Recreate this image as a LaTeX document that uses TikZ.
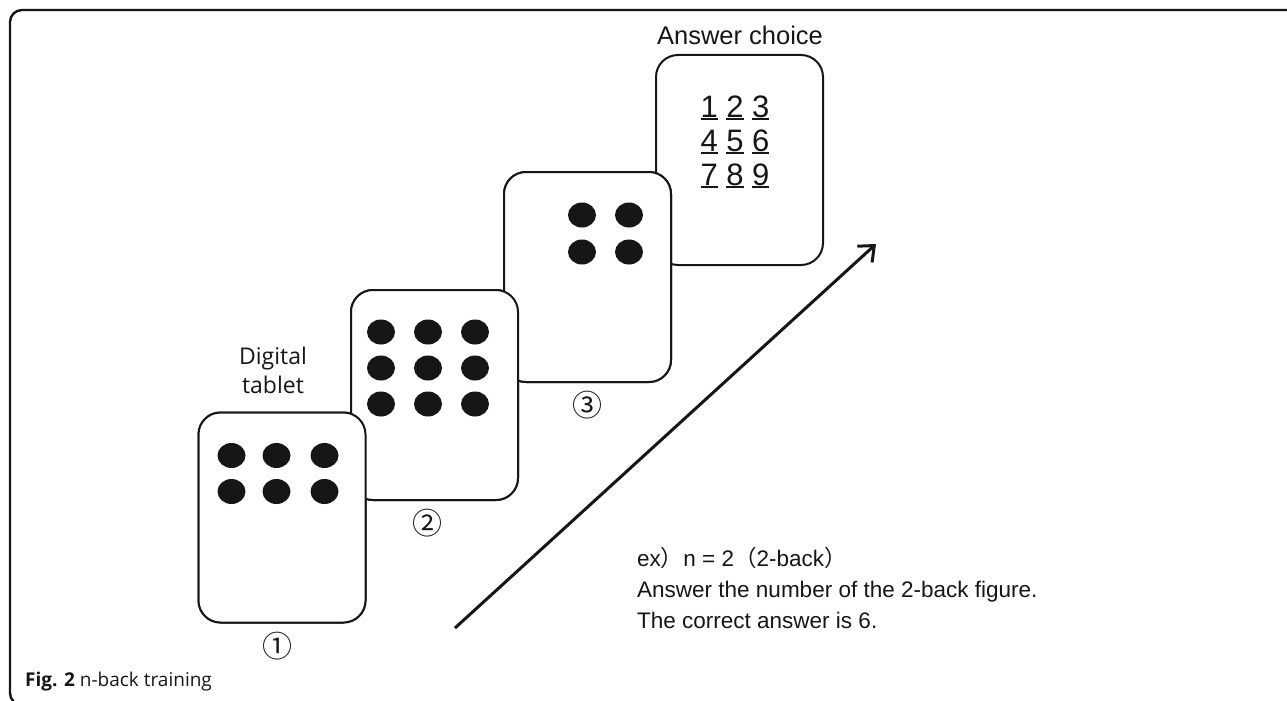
\documentclass[tikz,border=0pt]{standalone}
\usepackage{fontspec}
\setmainfont{Liberation Sans}
\newfontfamily\captionfont{Open Sans}
\newfontfamily\cjk{Noto Sans CJK JP}
\usetikzlibrary{arrows.meta,calc}
\definecolor{ink}{HTML}{161616}
% underlined digit with the rule close under the baseline
\newcommand\uldigit[1]{\setbox0\hbox{#1}\rlap{\rule[-2.6pt]{\wd0}{2pt}}\box0\relax}

\begin{document}
\begin{tikzpicture}[x=1pt,y=-1pt,
  card/.style={draw=ink, fill=white, line width=2pt, rounded corners=22pt,
    minimum width=167pt, minimum height=210pt, inner sep=0pt},
  frameline/.style={draw=ink, line width=2.4pt, rounded corners=12pt},
  bodytext/.style={font=\fontsize{22.5}{31}\selectfont, anchor=base west, inner sep=0pt, text=ink},
  numrow/.style={font=\fontsize{31}{34}\selectfont, anchor=base, inner sep=0pt, text=ink},
  circnum/.style={font=\cjk\fontsize{30}{30}\selectfont, inner sep=0pt, text=ink},
  tabtext/.style={font=\captionfont\fontsize{23}{29}\selectfont, anchor=base, inner sep=0pt, text=ink},
  dot/.style={fill=ink},
  flow/.style={draw=ink, line width=3pt, -{Straight Barb[length=13pt, width=22pt, line width=3pt]}}
]
\useasboundingbox (0,0) rectangle (1287,701);

% outer frame, only its top and left sides fall inside the page
\draw[frameline] (10,10) rectangle (1320,705);

% cards, back to front
\node[card] (ans) at (739.5,160) {};
\node[card] (c3) at (587.5,277) {};
\node[card] (c2) at (434.5,395) {};
\node[card] (c1) at (282,517.5) {};

% answer card contents
\node[font=\fontsize{25.5}{30}\selectfont, anchor=base, inner sep=0pt, text=ink] (anslabel) at (740,45) {Answer choice};
\node[numrow] (r1) at (735,117) {\uldigit{1} \uldigit{2} \uldigit{3}};
\node[numrow] (r2) at (735,151) {\uldigit{4} \uldigit{5} \uldigit{6}};
\node[numrow] (r3) at (735,185) {\uldigit{7} \uldigit{8} \uldigit{9}};

% card 3 redrawn above the answer card with its four dots
\node[card] at (c3) {};
\foreach \dx/\dy in {79/44,126/44,79/81,126/81}
  \fill[dot] ($(c3.north west)+(\dx,\dy)$) ellipse [x radius=14pt, y radius=12.5pt];
\node[card] at (c2) {};
\foreach \dx in {31,78,125}
  \foreach \dy in {43,79,115}
    \fill[dot] ($(c2.north west)+(\dx,\dy)$) ellipse [x radius=14pt, y radius=12.5pt];
\node[card] at (c1) {};
\foreach \dx in {34,79,127}
  \foreach \dy in {44,80}
    \fill[dot] ($(c1.north west)+(\dx,\dy)$) ellipse [x radius=14pt, y radius=12.5pt];

% sequence numbers under the cards
\node[circnum] (n1) at (277,646) {①};
\node[circnum] (n2) at (427,523) {②};
\node[circnum] (n3) at (587,405) {③};

% device label
\node[tabtext] (lab1) at (273,364) {Digital};
\node[tabtext] (lab2) at (273,393) {tablet};

% time arrow
\coordinate (tstart) at (455,628);
\coordinate (tend) at (876,244);
\draw[flow] (tstart) -- (tend);

% example text
\node[bodytext] (t1) at (637,566) {ex{\cjk ）}n = 2{\cjk （}2-back{\cjk ）}};
\node[bodytext] (t2) at (637,597) {Answer the number of the 2-back figure.};
\node[bodytext] (t3) at (637,628) {The correct answer is 6.};

% caption
\node[font=\captionfont\fontsize{19}{24}\selectfont, anchor=base west, inner sep=0pt, text=ink] (cap) at (25,686) {\textbf{Fig. 2} n-back training};
\end{tikzpicture}
\end{document}
